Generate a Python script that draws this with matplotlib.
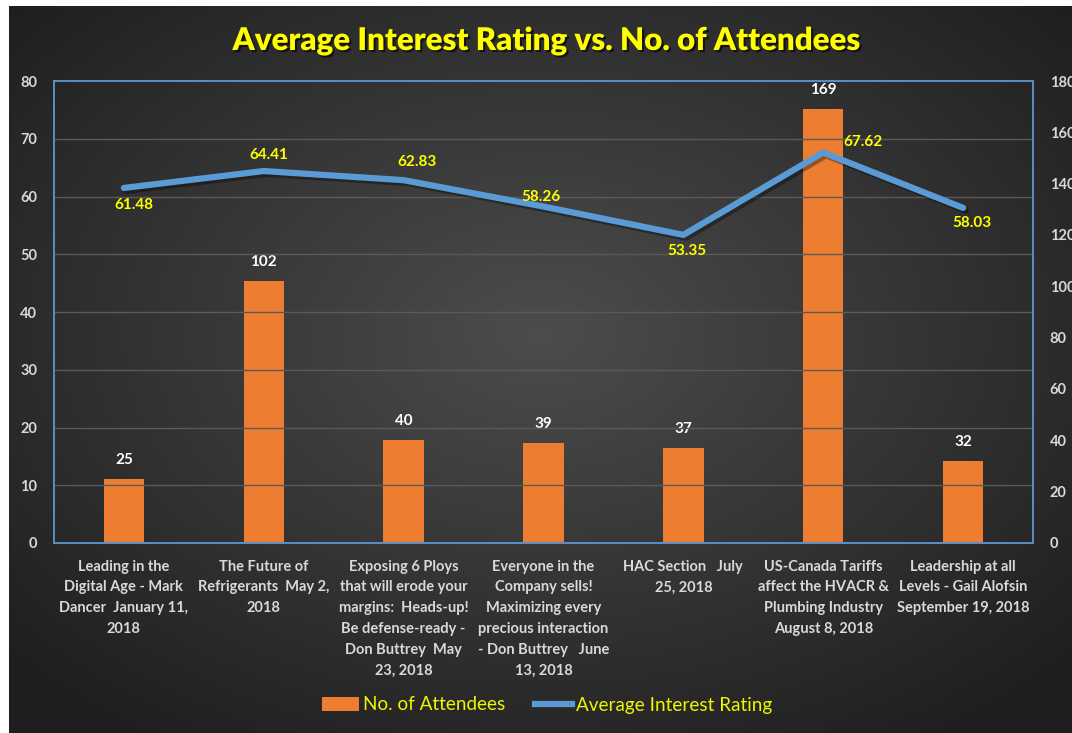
import numpy as np
import matplotlib
matplotlib.use("Agg")
import matplotlib.pyplot as plt
import matplotlib.patheffects as pe
from matplotlib.lines import Line2D
from matplotlib.patches import Patch

categories = [
    "Leading in the\nDigital Age - Mark\nDancer  January 11,\n2018",
    "The Future of\nRefrigerants  May 2,\n2018",
    "Exposing 6 Ploys\nthat will erode your\nmargins:  Heads-up!\nBe defense-ready -\nDon Buttrey  May\n23, 2018",
    "Everyone in the\nCompany sells!\nMaximizing every\nprecious interaction\n- Don Buttrey   June\n13, 2018",
    "HAC Section   July\n25, 2018",
    "US-Canada Tariffs\naffect the HVACR &\nPlumbing Industry\nAugust 8, 2018",
    "Leadership at all\nLevels - Gail Alofsin\nSeptember 19, 2018",
]
attendees = [25, 102, 40, 39, 37, 169, 32]
rating = [61.48, 64.41, 62.83, 58.26, 53.35, 67.62, 58.03]
left_ticks = [0, 10, 20, 30, 40, 50, 60, 70, 80]
right_ticks = [0, 20, 40, 60, 80, 100, 120, 140, 160, 180]

# label offsets (pixels) for the line labels
line_label_offsets = [(10, -17), (5, 16), (13, 18), (-3, 10), (4, -16), (40, 10), (9, -15)]

FONT = "Lato"
ORANGE = "#ed7d31"
BLUE = "#5b9bd5"
YELLOW = "#ffff00"
LEG_YELLOW = "#eef500"
GREY = "#d9d9d9"

W, H = 1072, 733
fig = plt.figure(figsize=(W / 100, H / 100), dpi=100)
fig.patch.set_facecolor("white")

# background panel with radial gradient
bg = fig.add_axes([9 / W, 0, 1 - 9 / W, 1 - 6 / H])
bg.set_axis_off()
yy, xx = np.mgrid[0:1:400j, 0:1:600j]
r = np.sqrt(((xx - 0.5) / 0.75) ** 2 + ((yy - 0.55) / 0.75) ** 2)
val = np.clip(0.30 - 0.20 * r, 0.12, 0.30)
img = np.dstack([val, val, val])
bg.imshow(img, aspect="auto", extent=[0, 1, 0, 1], origin="lower", interpolation="bilinear")
bg.set_xlim(0, 1)
bg.set_ylim(0, 1)

x = np.arange(len(categories))

ax = fig.add_axes([54 / W, (H - 543) / H, (1033 - 54) / W, (543 - 81) / H])
ax.set_facecolor("none")
ax2 = ax.twinx()
ax2.set_facecolor("none")

# bars on right scale (ax), line on left scale (ax2 drawn on top)
bars = ax.bar(x, attendees, width=0.29, color=ORANGE, zorder=2)
ax.set_ylim(0, 180)
ax.set_xlim(-0.5, len(categories) - 0.5)
ax.yaxis.set_ticks_position("right")
ax.set_yticks(right_ticks)
ax.set_yticklabels([str(t) for t in right_ticks])

ax2.set_ylim(0, 80)
ax2.yaxis.set_ticks_position("left")
ax2.set_yticks(left_ticks)
ax2.set_yticklabels([str(t) for t in left_ticks])
for t in left_ticks[1:-1]:
    ax2.axhline(t, color="#5a5a5a", lw=1, zorder=0)

ax2.plot(x, rating, color=BLUE, lw=4.5, solid_capstyle="round", solid_joinstyle="round",
         zorder=3,
         path_effects=[pe.SimpleLineShadow(offset=(2, -2), shadow_color="black", alpha=0.35),
                       pe.Normal()])

for a in (ax, ax2):
    a.tick_params(axis="y", length=0, labelsize=10.5, labelcolor=GREY, pad=12)
    for lbl in a.get_yticklabels():
        lbl.set_fontfamily(FONT)
        lbl.set_fontweight("bold")
    for s in a.spines.values():
        s.set_color("#5d8ec4")
        s.set_linewidth(1.2)

ax.set_xticks(x)
ax.set_xticklabels(categories, fontfamily=FONT, fontweight="bold", fontsize=10.5,
                   color=GREY, linespacing=1.62, va="top")
ax.tick_params(axis="x", length=0, pad=12)
ax2.tick_params(axis="x", length=0)

# bar value labels
for xi, v in zip(x, attendees):
    ax.annotate(str(v), (xi, v), xytext=(0, 19), textcoords="offset pixels",
                ha="center", va="center", color="white", fontfamily=FONT,
                fontweight="bold", fontsize=11, zorder=5)

# line value labels
for xi, v, (dx, dy) in zip(x, rating, line_label_offsets):
    ax2.annotate(f"{v:.2f}", (xi, v), xytext=(dx, dy), textcoords="offset pixels",
                 ha="center", va="center", color=YELLOW, fontfamily=FONT,
                 fontweight="bold", fontsize=11, zorder=5)

# title
fig.text(547 / W, 1 - 41 / H, "Average Interest Rating vs. No. of Attendees",
         ha="center", va="center", color=YELLOW, fontfamily=FONT, fontweight="heavy",
         fontsize=22.5,
         path_effects=[pe.withSimplePatchShadow(offset=(1.5, -1.5), shadow_rgbFace="black", alpha=0.6)])

# legend
handles = [Patch(facecolor=ORANGE, edgecolor="none", label="No. of Attendees"),
           Line2D([0], [0], color=BLUE, lw=4.5, label="Average Interest Rating")]
leg = fig.legend(handles=handles, loc="center", bbox_to_anchor=(547 / W, 1 - 705 / H),
                 ncol=2, frameon=False, handlelength=1.95, handleheight=0.75,
                 columnspacing=1.6, handletextpad=0.2,
                 prop={"family": FONT, "size": 13.6})
for t in leg.get_texts():
    t.set_color(LEG_YELLOW)

fig.savefig("out.png", dpi=100, facecolor=fig.get_facecolor())
